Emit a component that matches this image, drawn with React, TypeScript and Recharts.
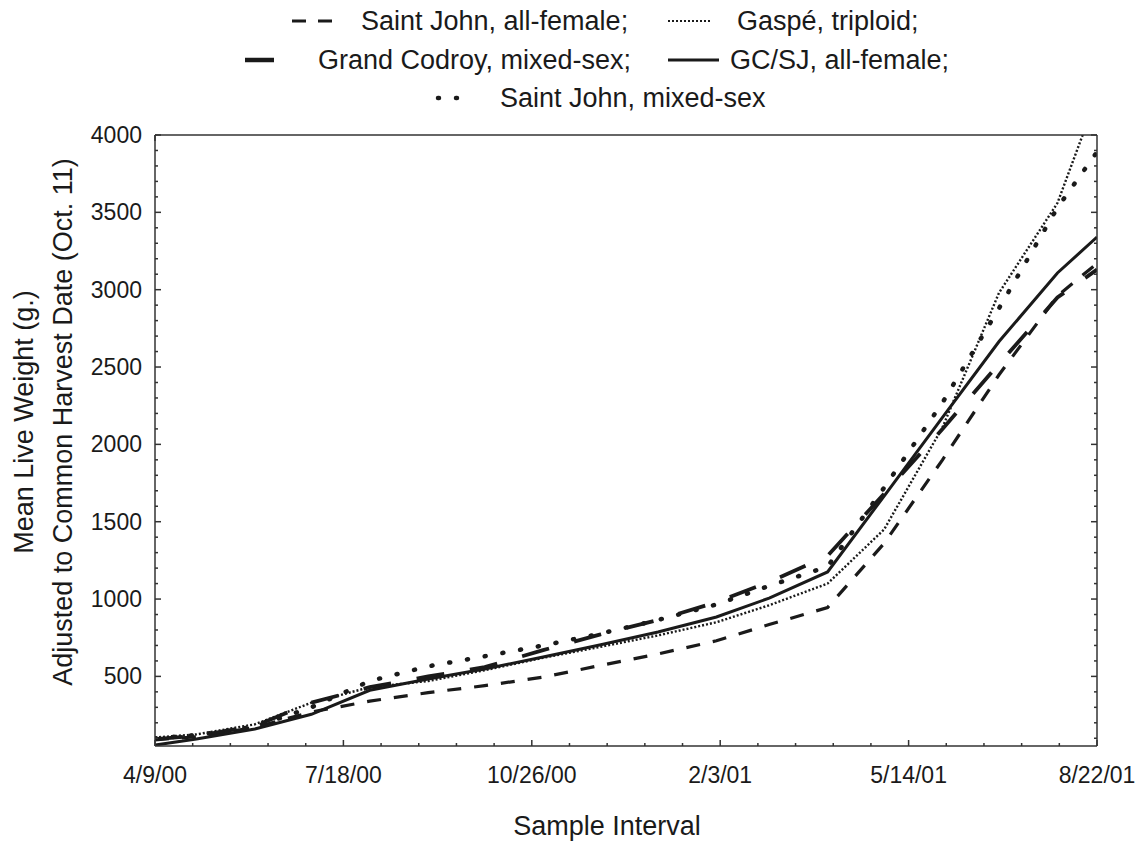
import { LineChart, Line, XAxis, YAxis } from 'recharts'

// sample dates as days after 4/9/00
const sampleDays = [0, 22, 53, 83, 114, 145, 175, 206, 236, 267, 298, 326, 357, 387, 418, 448, 479, 500]

// mean live weight (g) per group
const sjAllFemale = [90, 110, 170, 270, 340, 395, 440, 495, 570, 645, 730, 835, 945, 1360, 1900, 2450, 2960, 3170]
const gaspeTriploid = [105, 125, 190, 330, 430, 470, 540, 620, 690, 765, 850, 960, 1100, 1450, 2110, 2980, 3560, 4250]
const grandCodroyMixed = [95, 115, 180, 330, 430, 500, 560, 670, 770, 865, 980, 1110, 1280, 1680, 2100, 2520, 2950, 3130]
const gcSjAllFemale = [56, 95, 160, 255, 410, 483, 548, 625, 703, 787, 884, 1006, 1175, 1666, 2174, 2665, 3108, 3340]
const sjMixed = [100, 120, 175, 300, 470, 565, 630, 700, 775, 865, 965, 1085, 1210, 1720, 2270, 2880, 3530, 3890]

const dateTicks = [0, 100, 200, 300, 400, 500]
const dateLabels = ['4/9/00', '7/18/00', '10/26/00', '2/3/01', '5/14/01', '8/22/01']
const minorDays = Array.from({ length: 26 }, (_, i) => i * 20)
const minorWeights = Array.from({ length: 40 }, (_, i) => (i + 1) * 100)

const data = sampleDays.map((day, i) => ({
  day,
  sjf: sjAllFemale[i],
  gaspe: gaspeTriploid[i],
  gc: grandCodroyMixed[i],
  gcsj: gcSjAllFemale[i],
  sjm: sjMixed[i],
}))

const FONT = '"Liberation Sans", Arial, sans-serif'
const INK = '#1a1a1a'
const FRAME = '#333'

const series = [
  { key: 'sjf', dash: '14 13', width: 3.2, cap: 'butt' },
  { key: 'gaspe', dash: '2 2', width: 2.4, cap: 'butt' },
  { key: 'gc', dash: '28 26', width: 3.8, cap: 'butt' },
  { key: 'gcsj', dash: undefined, width: 3, cap: 'butt' },
  { key: 'sjm', dash: '1 17', width: 4.5, cap: 'round' },
] as const

const frameLine = { stroke: FRAME, strokeWidth: 1.5 }

// inward tick marks; majors are longer and carry the labels on bottom/left
const BottomTick = ({ x, y, payload }: any) => {
  const i = dateTicks.indexOf(payload.value)
  return (
    <g>
      <line x1={x} x2={x} y1={y} y2={y - (i >= 0 ? 6 : 3)} stroke={FRAME} strokeWidth={1.5} />
      {i >= 0 && (
        <text x={x} y={y + 37} textAnchor="middle" fontSize={23} fontFamily={FONT} fill={INK}>{dateLabels[i]}</text>
      )}
    </g>
  )
}

const TopTick = ({ x, y, payload }: any) => (
  <line x1={x} x2={x} y1={y} y2={y + (payload.value % 100 === 0 ? 6 : 3)} stroke={FRAME} strokeWidth={1.5} />
)

const LeftTick = ({ x, y, payload }: any) => {
  const major = payload.value % 500 === 0
  return (
    <g>
      <line x1={x} x2={x + (major ? 6 : 3)} y1={y} y2={y} stroke={FRAME} strokeWidth={1.5} />
      {major && (
        <text x={x - 13} y={y + 8} textAnchor="end" fontSize={23} fontFamily={FONT} fill={INK}>{payload.value}</text>
      )}
    </g>
  )
}

const RightTick = ({ x, y, payload }: any) => (
  <line x1={x} x2={x - (payload.value % 500 === 0 ? 6 : 3)} y1={y} y2={y} stroke={FRAME} strokeWidth={1.5} />
)

export default function App() {
  return (
    <div style={{ position: 'relative', width: 1141, height: 846, background: '#fff' }}>
      <style>{'body{margin:0}'}</style>
      <LineChart width={1141} height={846} data={data} margin={{ top: 134, right: 43, bottom: 99, left: 154 }}>
        <XAxis xAxisId="main" dataKey="day" type="number" domain={[0, 500]} ticks={minorDays} interval={0} height={1}
          tickSize={0} tickMargin={0} tick={BottomTick} axisLine={frameLine} tickLine={false} allowDataOverflow />
        <XAxis xAxisId="top" orientation="top" type="number" domain={[0, 500]} ticks={minorDays} interval={0} height={1}
          tickSize={0} tickMargin={0} tick={TopTick} axisLine={frameLine} tickLine={false} allowDataOverflow />
        <YAxis yAxisId="main" type="number" domain={[50, 4000]} ticks={minorWeights} interval={0} width={1}
          tickSize={0} tickMargin={0} tick={LeftTick} axisLine={frameLine} tickLine={false} allowDataOverflow />
        <YAxis yAxisId="right" orientation="right" type="number" domain={[50, 4000]} ticks={minorWeights} interval={0} width={1}
          tickSize={0} tickMargin={0} tick={RightTick} axisLine={frameLine} tickLine={false} allowDataOverflow />
        {series.map(s => (
          <Line key={s.key} xAxisId="main" yAxisId="main" type="linear" dataKey={s.key}
            stroke={INK} strokeWidth={s.width} strokeDasharray={s.dash} strokeLinecap={s.cap}
            dot={false} activeDot={false} isAnimationActive={false} />
        ))}
      </LineChart>

      <svg width={1141} height={846} style={{ position: 'absolute', left: 0, top: 0, pointerEvents: 'none' }}
        fontFamily={FONT} fontSize={27} fill={INK}>
        {/* legend */}
        <line x1={292} x2={332} y1={21} y2={21} stroke={INK} strokeWidth={3.2} strokeDasharray="14 12" />
        <text x={361} y={30}>Saint John, all-female;</text>
        <line x1={668} x2={712} y1={21} y2={21} stroke={INK} strokeWidth={2.2} strokeDasharray="2 2" />
        <text x={737} y={30}>Gaspé, triploid;</text>

        <line x1={245} x2={274} y1={60} y2={60} stroke={INK} strokeWidth={4.5} />
        <text x={318} y={69}>Grand Codroy, mixed-sex;</text>
        <line x1={668} x2={719} y1={60} y2={60} stroke={INK} strokeWidth={3.2} />
        <text x={730} y={69}>GC/SJ, all-female;</text>

        <line x1={438} x2={474} y1={98} y2={98} stroke={INK} strokeWidth={4.5} strokeDasharray="1 17" strokeLinecap="round" />
        <text x={500} y={107}>Saint John, mixed-sex</text>

        {/* axis titles */}
        <text x={33} y={422} transform="rotate(-90 33 422)" textAnchor="middle">Mean Live Weight (g.)</text>
        <text x={72} y={422} transform="rotate(-90 72 422)" textAnchor="middle">Adjusted to Common Harvest Date (Oct. 11)</text>
        <text x={607} y={835} textAnchor="middle">Sample Interval</text>
      </svg>
    </div>
  )
}
